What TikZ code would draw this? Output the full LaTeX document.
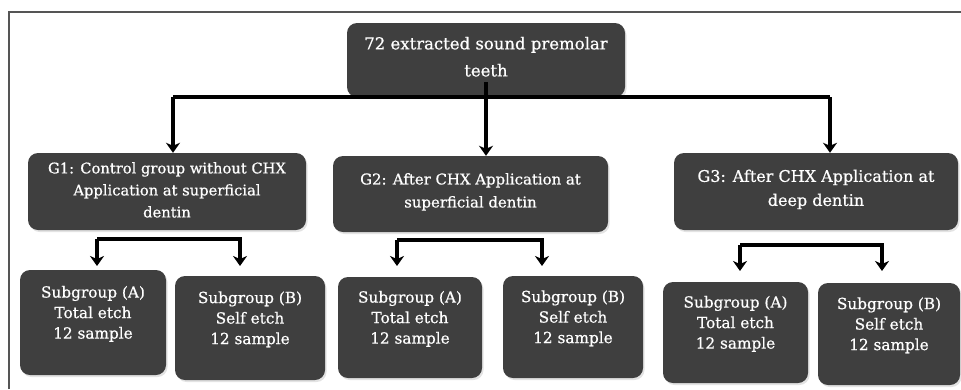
\documentclass[tikz,border=0pt]{standalone}
\usepackage{fontspec}
\setmainfont{DejaVu Serif}[FakeBold=0.6]
\usetikzlibrary{arrows.meta,shadows}
\definecolor{boxfill}{HTML}{3F3F3F}
\definecolor{framecol}{HTML}{555555}
\newcommand{\pushdown}[1]{\mbox{}\\[#1]}
\begin{document}
\begin{tikzpicture}[x=1pt,y=-1pt,
  box/.style={draw=none,fill=boxfill,rounded corners=10pt,text=white,align=center,
    inner sep=2pt,font=\fontsize{16.5}{23}\selectfont,
    drop shadow={shadow xshift=1.5pt,shadow yshift=-2pt,fill=black!22}},
  topbox/.style={box,font=\fontsize{16.5}{27}\selectfont},
  subbox/.style={box,font=\fontsize{15.3}{20.5}\selectfont},
  conn/.style={line width=3.2pt,black},
  arr/.style={conn,-{Stealth[length=10pt,width=14pt,inset=3pt]}}]
\useasboundingbox (0,0) rectangle (961,389);
\draw[framecol,line width=1.2pt] (9,389) -- (9,12) -- (961,12);
% top
\node[topbox,minimum width=278pt,minimum height=74pt] (top) at (486,60) {\pushdown{-21pt}72 extracted sound premolar\\teeth};
% groups
\node[box,font=\fontsize{14.7}{22}\selectfont,minimum width=278pt,minimum height=77pt] (g1) at (167,191.5) {\pushdown{-14pt}G1: Control group without CHX\\Application at superficial\\dentin};
\node[box,font=\fontsize{14.9}{23}\selectfont,minimum width=275pt,minimum height=76pt] (g2) at (470.5,194) {\pushdown{-16pt}G2: After CHX Application at\\superficial dentin};
\node[box,font=\fontsize{16}{24}\selectfont,minimum width=284pt,minimum height=77pt] (g3) at (816,191.5) {\pushdown{-16pt}G3: After CHX Application at\\deep dentin};
% subgroups
\node[subbox,minimum width=146pt,minimum height=105pt] (a1) at (93,322.5) {Subgroup (A)\\Total etch\\12 sample\\\mbox{}};
\node[subbox,minimum width=150pt,minimum height=104pt] (b1) at (250,328) {Subgroup (B)\\Self etch\\12 sample\\\mbox{}};
\node[subbox,minimum width=144pt,minimum height=101pt] (a2) at (410,327.5) {Subgroup (A)\\Total etch\\12 sample\\\mbox{}};
\node[subbox,minimum width=140pt,minimum height=102pt] (b2) at (573,327) {Subgroup (B)\\Self etch\\12 sample\\\mbox{}};
\node[subbox,minimum width=145pt,minimum height=101pt] (a3) at (735.5,332.5) {Subgroup (A)\\Total etch\\12 sample\\\mbox{}};
\node[subbox,minimum width=142pt,minimum height=102pt] (b3) at (889,334) {Subgroup (B)\\Self etch\\12 sample\\\mbox{}};
% main branch
\coordinate (h1) at (173,97);
\coordinate (h2) at (486,97);
\coordinate (h3) at (830,97);
\draw[conn] (h1) -- (h3);
\draw[arr] (top.center |- 0,82) -- (h2) -- (h2 |- g2.north);
\draw[arr] (h1) -- (h1 |- g1.north);
\draw[arr] (h3) -- (h3 |- g3.north);
% sub branches
\coordinate (s1a) at (97,239);
\coordinate (s1b) at (240,239);
\coordinate (s2a) at (397,240);
\coordinate (s2b) at (542,240);
\coordinate (s3a) at (740,245);
\coordinate (s3b) at (882,245);
\draw[arr] (s1a) -- (s1b) -- (s1b |- 0,266);
\draw[arr] (s1a) -- (s1a |- 0,266);
\draw[arr] (s2a) -- (s2b) -- (s2b |- 0,266);
\draw[arr] (s2a) -- (s2a |- 0,266);
\draw[arr] (s3a) -- (s3b) -- (s3b |- 0,271);
\draw[arr] (s3a) -- (s3a |- 0,271);
\end{tikzpicture}
\end{document}
